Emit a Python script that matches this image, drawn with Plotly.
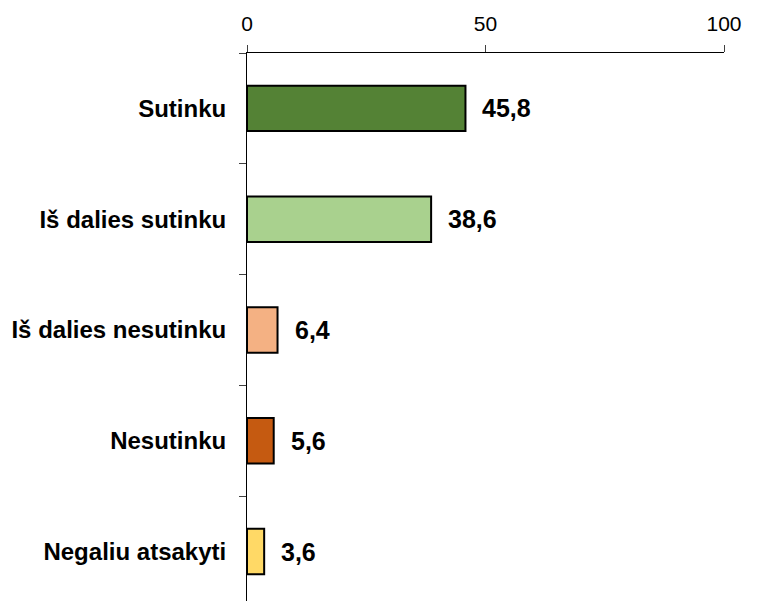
import plotly.graph_objects as go

categories = ["Sutinku", "Iš dalies sutinku", "Iš dalies nesutinku", "Nesutinku", "Negaliu atsakyti"]
values = [45.8, 38.6, 6.4, 5.6, 3.6]
value_labels = ["45,8", "38,6", "6,4", "5,6", "3,6"]
colors = ["#548235", "#A9D18E", "#F4B183", "#C55A11", "#FFD966"]
x_ticks = [0, 50, 100]

FONT = "Arial, Liberation Sans, sans-serif"

fig = go.Figure()
fig.add_trace(go.Bar(
    x=values,
    y=categories,
    orientation="h",
    width=0.41,
    marker=dict(color=colors, line=dict(color="#000000", width=2)),
    hoverinfo="skip",
))

for v, c, t in zip(values, categories, value_labels):
    fig.add_annotation(
        x=v, y=c, text=t, showarrow=False, xanchor="left", yanchor="middle",
        xshift=15, font=dict(family=FONT, size=25, color="#000000", weight="bold"),
    )

fig.update_layout(
    width=756, height=593,
    margin=dict(l=239, r=40, t=45, b=0, pad=0),
    paper_bgcolor="white", plot_bgcolor="white",
    showlegend=False,
    xaxis=dict(
        side="top", range=[0, 100], tickvals=x_ticks, ticktext=[str(t) for t in x_ticks],
        showgrid=False, zeroline=False, showline=True, linecolor="#000000", linewidth=1,
        ticks="outside", ticklen=7, tickcolor="#404040", tickwidth=1,
        tickfont=dict(family=FONT, size=21, color="#000000"),
        ticklabelstandoff=6, automargin=False,
    ),
    yaxis=dict(
        type="category", categoryorder="array", categoryarray=categories,
        range=[4.446, -0.5],
        showgrid=False, zeroline=False, showline=True, linecolor="#000000", linewidth=1,
        ticks="outside", ticklen=7, tickcolor="#404040", tickwidth=1, tickson="boundaries",
        tickfont=dict(family=FONT, size=24, color="#000000", weight="bold"),
        ticklabelstandoff=15, automargin=False,
    ),
)

fig.write_html("out.html")
